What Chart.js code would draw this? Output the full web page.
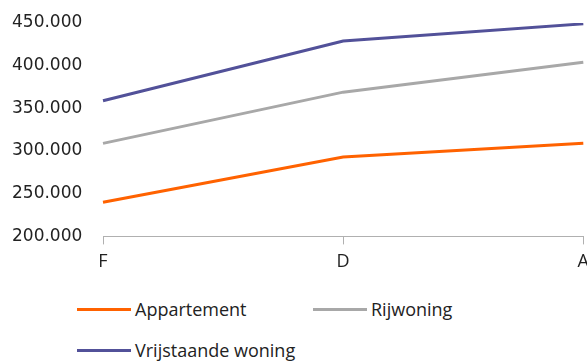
<!DOCTYPE html>
<html>
<head>
<meta charset="utf-8">
<script src="https://cdn.jsdelivr.net/npm/chart.js@4"></script>
<style>
  html, body { margin: 0; padding: 0; background: #fff; overflow: hidden; }
  body { width: 587px; height: 361px; position: relative; font-family: "Open Sans", sans-serif; }
  #wrap { position: absolute; left: 0; top: 0; width: 596px; height: 280px; }
  #legend { position: absolute; left: 77px; top: 297px; width: 500px; }
  .item { position: absolute; display: flex; align-items: center; font-size: 18px; color: #222; white-space: nowrap; }
  .item span.line { display: inline-block; width: 54px; height: 3px; margin-right: 4px; }
</style>
</head>
<body>
<div id="wrap"><canvas id="chart"></canvas></div>
<div id="legend"></div>
<script>
// data
var categories = ['F', 'D', 'A'];
var appartement = [240000, 293000, 309000];
var rijwoning = [309000, 369000, 404000];
var vrijstaand = [359000, 429000, 449000];
var seriesNames = ['Appartement', 'Rijwoning', 'Vrijstaande woning'];
var colors = ['#ff6200', '#a8a8a8', '#525199'];

function fmt(v) {
  return String(v).replace(/\B(?=(\d{3})+(?!\d))/g, '.');
}

var ctx = document.getElementById('chart').getContext('2d');
var chart = new Chart(ctx, {
  type: 'line',
  data: {
    labels: categories,
    datasets: [appartement, rijwoning, vrijstaand].map(function(d, i) {
      return {
        label: seriesNames[i],
        data: d,
        borderColor: colors[i],
        backgroundColor: colors[i],
        borderWidth: 3,
        pointRadius: 0,
        tension: 0,
      };
    })
  },
  options: {
    responsive: true,
    maintainAspectRatio: false,
    animation: false,
    layout: { padding: { top: 23, left: 12, right: 0, bottom: 0 } },
    plugins: { legend: { display: false }, tooltip: { enabled: false } },
    scales: {
      x: {
        offset: false,
        grid: { display: true, drawOnChartArea: false, drawTicks: true, tickLength: 8, color: '#b0b0b0' },
        border: { display: true, color: '#b0b0b0', width: 1 },
        ticks: { color: '#222', font: { family: 'Open Sans', size: 18 }, padding: 7, maxRotation: 0 }
      },
      y: {
        min: 200000,
        max: 450000,
        grid: { display: false, drawTicks: false },
        border: { display: false },
        afterFit: function(scale) { scale.width = 91; },
        ticks: {
          stepSize: 50000,
          color: '#222',
          padding: 0,
          crossAlign: 'far',
          font: { family: 'DejaVu Sans', size: 17 },
          callback: function(v) { return fmt(v); }
        }
      }
    }
  }
});

// html legend laid out like the picture
var legend = document.getElementById('legend');
var spots = [[0, 0], [236, 0], [0, 41]];
chart.data.datasets.forEach(function(ds, i) {
  var el = document.createElement('div');
  el.className = 'item';
  el.style.left = spots[i][0] + 'px';
  el.style.top = spots[i][1] + 'px';
  var ln = document.createElement('span');
  ln.className = 'line';
  ln.style.background = ds.borderColor;
  el.appendChild(ln);
  el.appendChild(document.createTextNode(ds.label));
  legend.appendChild(el);
});
</script>
</body>
</html>
